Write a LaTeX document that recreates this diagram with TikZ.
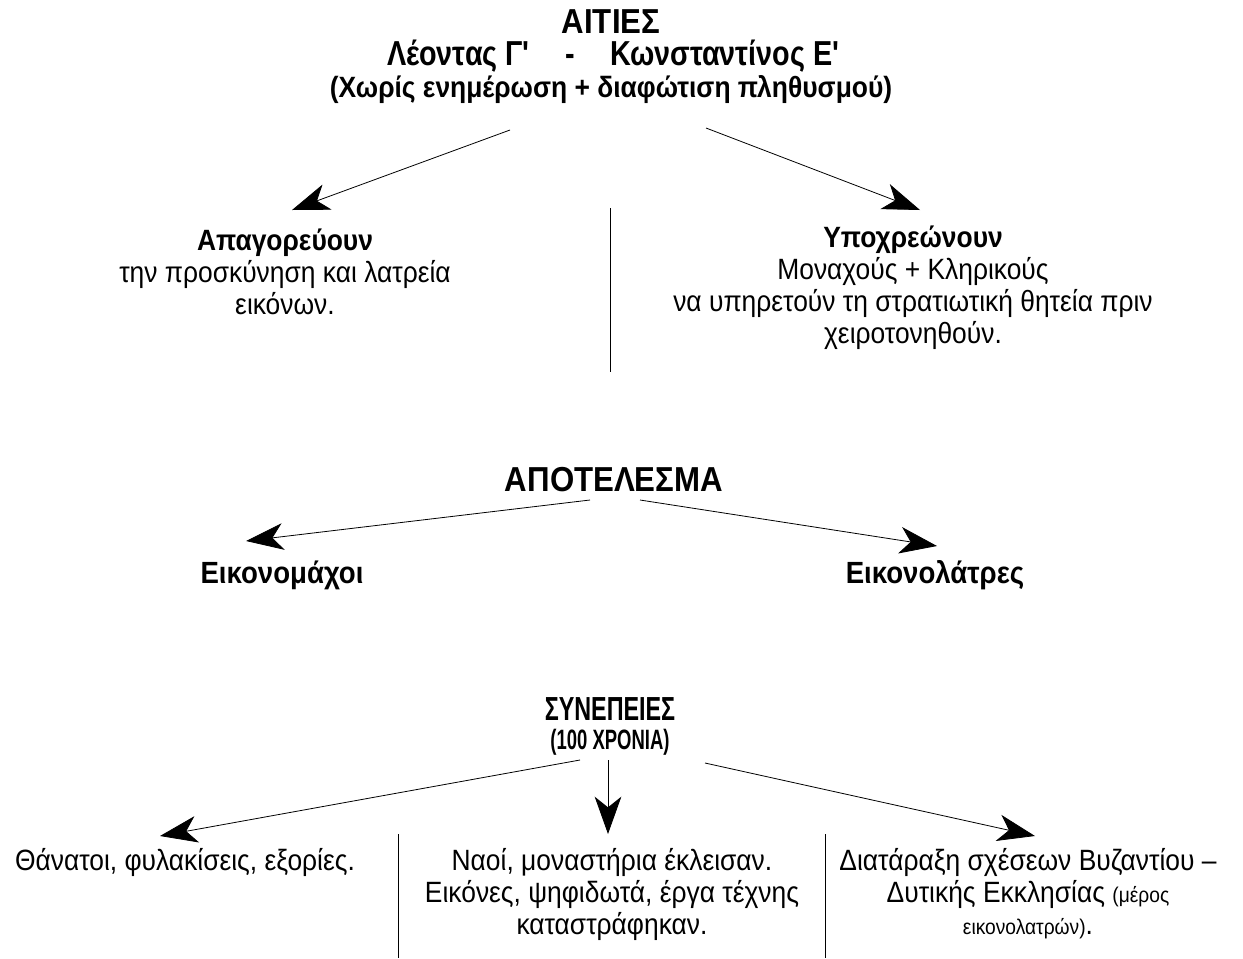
\documentclass[tikz,border=0pt]{standalone}
\usepackage{fontspec}
\setmainfont{Liberation Sans}[FakeStretch=0.9]
\newfontfamily\condfont{Liberation Sans}[FakeStretch=0.83]
\newfontfamily\narrowfont{Liberation Sans}[FakeStretch=0.7]
\newfontfamily\slimfont{Liberation Sans}[FakeStretch=0.66]
\usetikzlibrary{arrows.meta}
\tikzset{
  head/.style={font=\bfseries\fontsize{26}{30}\selectfont, inner sep=0pt},
  title/.style={font=\condfont\bfseries\fontsize{26}{30}\selectfont, inner sep=0pt},
  subhead/.style={font=\bfseries\fontsize{22}{24}\selectfont, inner sep=0pt},
  side/.style={font=\bfseries\fontsize{23}{26}\selectfont, inner sep=0pt},
  narrowhead/.style={font=\narrowfont\bfseries\fontsize{25}{28}\selectfont, inner sep=0pt},
  narrowsub/.style={font=\slimfont\bfseries\fontsize{21}{24}\selectfont, inner sep=0pt},
  txt/.style={font=\fontsize{22}{24}\selectfont, align=center, inner sep=0pt},
  arr/.style={-{Stealth[length=28pt,width=20pt,inset=8pt]}, line width=0.6pt},
  sep/.style={line width=0.6pt},
}
\newcommand{\smalltxt}[1]{{\fontsize{16}{24}\selectfont #1}}
\begin{document}
\begin{tikzpicture}[x=0.75pt,y=-0.75pt]
\useasboundingbox (0,0) rectangle (1243,958);
% causes
\node[head] (aities) at (611,22) {ΑΙΤΙΕΣ};
\node[title] (rulers) at (614,56) {Λέοντας Γ\textquotesingle\quad-\quad Κωνσταντίνος Ε\textquotesingle};
\node[subhead] (noinfo) at (611,90) {(Χωρίς ενημέρωση + διαφώτιση πληθυσμού)};
\node[txt] (forbid) at (285,272) {\textbf{Απαγορεύουν}\\την προσκύνηση και λατρεία\\εικόνων.};
\node[txt] (oblige) at (913,288) {\textbf{Υποχρεώνουν}\\Μοναχούς + Κληρικούς\\να υπηρετούν τη στρατιωτική θητεία πριν\\χειροτονηθούν.};
\coordinate (c1) at (510,130);
\coordinate (c2) at (706,128);
\coordinate (t1) at (292,210);
\coordinate (t2) at (920,210);
\draw[arr] (c1) -- (t1);
\draw[arr] (c2) -- (t2);
\coordinate (m1) at (610,208);
\coordinate (m2) at (610,372);
\draw[sep] (m1) -- (m2);
% result
\node[head] (result) at (614,480) {ΑΠΟΤΕΛΕΣΜΑ};
\node[side] (iconoclasts) at (282,575) {Εικονομάχοι};
\node[side] (iconodules) at (935,575) {Εικονολάτρες};
\coordinate (r1) at (590,500);
\coordinate (r2) at (640,500);
\coordinate (rt1) at (246,541);
\coordinate (rt2) at (937,546);
\draw[arr] (r1) -- (rt1);
\draw[arr] (r2) -- (rt2);
% consequences
\node[narrowhead] (effects) at (610,709) {ΣΥΝΕΠΕΙΕΣ};
\node[narrowsub] (years) at (610,742) {(100 ΧΡΟΝΙΑ)};
\coordinate (e1) at (580,760);
\coordinate (e2) at (608,760);
\coordinate (e3) at (705,763);
\coordinate (et1) at (160,836);
\coordinate (et2) at (608,834);
\coordinate (et3) at (1035,836);
\draw[arr] (e1) -- (et1);
\draw[arr] (e2) -- (et2);
\draw[arr] (e3) -- (et3);
\node[txt] (deaths) at (185,862) {Θάνατοι, φυλακίσεις, εξορίες.};
\node[txt] (churches) at (612,894) {Ναοί, μοναστήρια έκλεισαν.\\Εικόνες, ψηφιδωτά, έργα τέχνης\\καταστράφηκαν.};
\node[txt] (relations) at (1028,894) {Διατάραξη σχέσεων Βυζαντίου --\\Δυτικής Εκκλησίας \smalltxt{(μέρος}\\\smalltxt{εικονολατρών)}.};
\coordinate (s1) at (398,834);
\coordinate (s2) at (398,958);
\coordinate (s3) at (825,834);
\coordinate (s4) at (825,958);
\draw[sep] (s1) -- (s2);
\draw[sep] (s3) -- (s4);
\end{tikzpicture}
\end{document}
